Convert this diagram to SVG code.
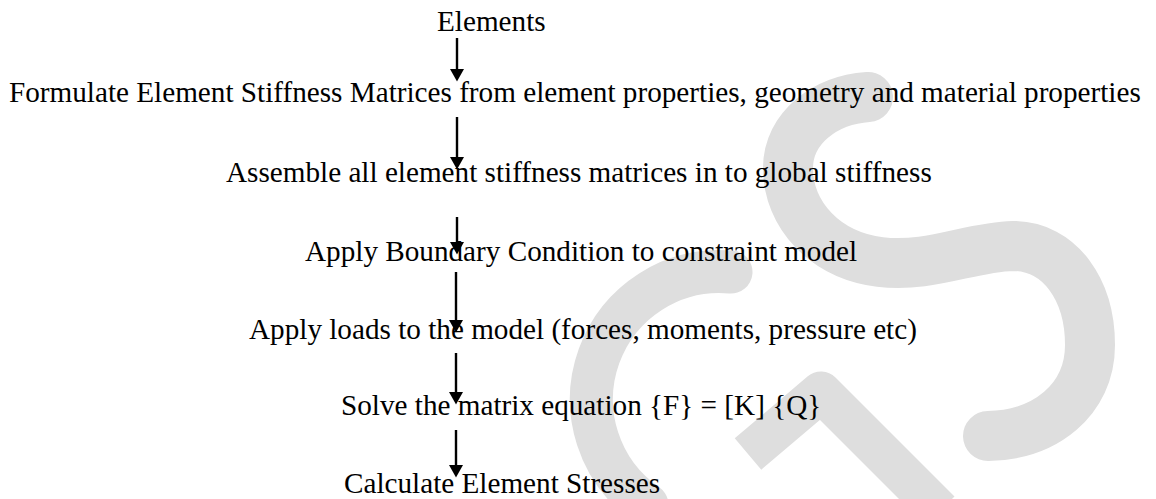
<svg xmlns="http://www.w3.org/2000/svg" width="1156" height="499" viewBox="0 0 1156 499">
  <defs>
    <marker id="head" markerUnits="userSpaceOnUse" markerWidth="15" markerHeight="15" refX="0" refY="7" orient="auto">
      <path d="M0,0 L12.5,7 L0,14 Z" fill="#000"/>
    </marker>
    <style>
      .t { font-family: "Liberation Serif", "Times New Roman", serif; font-size: 29.2px; fill: #000; }
      .wm { fill: none; stroke: #dedede; }
      .c { stroke: #000; stroke-width: 2.4; fill: none; marker-end: url(#head); }
    </style>
  </defs>
  <rect width="1156" height="499" fill="#fff"/>
  <g id="watermark">
    <path class="wm" stroke-width="50" stroke-linecap="round" d="M 868 97 C 825 100, 788 128, 788 168 C 788 215, 825 255, 880 262 C 930 268, 970 247, 1013 246 C 1060 246, 1090 290, 1090 345 C 1090 400, 1045 435, 988 436"/>
    <path class="wm" stroke-width="43" stroke-linecap="round" d="M 731 272 A 128 128 0 0 0 647 505"/>
    <path class="wm" stroke-width="41" stroke-linejoin="round" d="M 748 454 L 821 392 L 940 511"/>
  </g>
  <g id="n1"><text class="t" x="437" y="31">Elements</text></g>
  <g id="n2"><text class="t" x="9" y="102">Formulate Element Stiffness Matrices from element properties, geometry and material properties</text></g>
  <g id="n3"><text class="t" x="226" y="182">Assemble all element stiffness matrices in to global stiffness</text></g>
  <g id="n4"><text class="t" x="305" y="261">Apply Boundary Condition to constraint model</text></g>
  <g id="n5"><text class="t" x="249" y="339">Apply loads to the model (forces, moments, pressure etc)</text></g>
  <g id="n6"><text class="t" x="341" y="415">Solve the matrix equation {F} = [K] {Q}</text></g>
  <g id="n7"><text class="t" x="344" y="493">Calculate Element Stresses</text></g>
  <g id="connectors">
    <line class="c" x1="457" y1="38" x2="457" y2="69"/>
    <line class="c" x1="457" y1="117" x2="457" y2="157"/>
    <line class="c" x1="457" y1="217" x2="457" y2="242"/>
    <line class="c" x1="456" y1="272" x2="456" y2="320"/>
    <line class="c" x1="456" y1="353" x2="456" y2="392"/>
    <line class="c" x1="456" y1="430" x2="456" y2="465"/>
  </g>
</svg>
